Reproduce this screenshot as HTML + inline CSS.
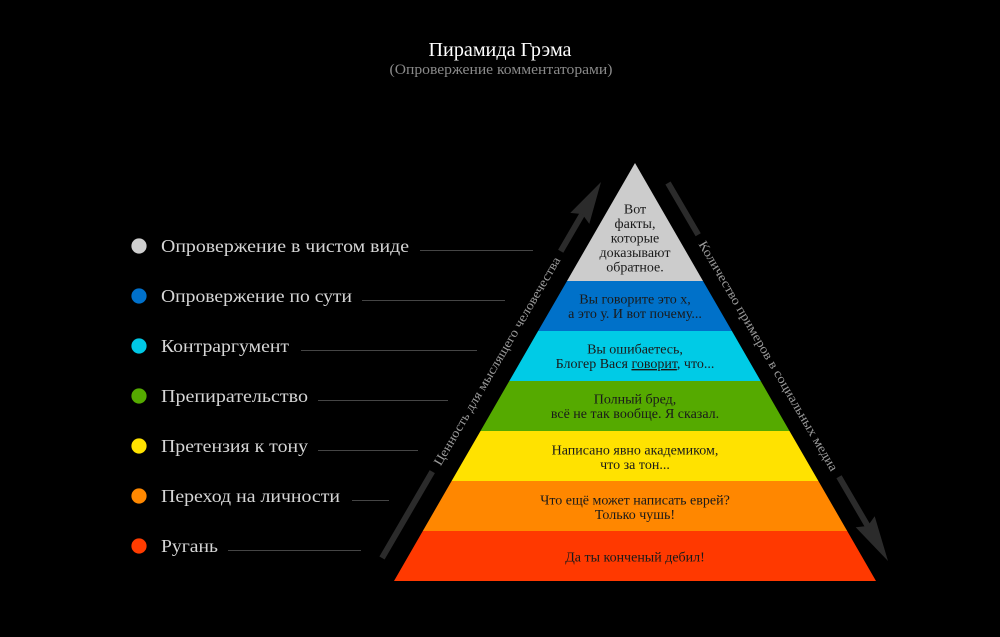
<!DOCTYPE html>
<html>
<head>
<meta charset="utf-8">
<style>
  html,body{margin:0;padding:0;background:#000;}
  svg{display:block;}
  text{font-family:"Liberation Serif","Noto Serif CJK SC",serif;}
</style>
</head>
<body>
<svg width="1000" height="637" viewBox="0 0 1000 637" xmlns="http://www.w3.org/2000/svg">
  <rect width="1000" height="637" fill="#000"/>

  <!-- Title -->
  <text x="500" y="56" text-anchor="middle" font-size="20" fill="#ffffff" textLength="143" lengthAdjust="spacingAndGlyphs">Пирамида Грэма</text>
  <text x="501" y="74" text-anchor="middle" font-size="15" fill="#8a8a8a" textLength="223" lengthAdjust="spacingAndGlyphs">(Опровержение комментаторами)</text>

  <!-- Legend -->
  <g fill="#d6d6d6" font-size="18">
    <circle cx="139" cy="246" r="7.6" fill="#cfcfcf"/>
    <text x="161" y="252" textLength="248" lengthAdjust="spacingAndGlyphs">Опровержение в чистом виде</text>
    <circle cx="139" cy="296" r="7.6" fill="#0071cc"/>
    <text x="161" y="302" textLength="191" lengthAdjust="spacingAndGlyphs">Опровержение по сути</text>
    <circle cx="139" cy="346" r="7.6" fill="#00c8e6"/>
    <text x="161" y="352" textLength="128" lengthAdjust="spacingAndGlyphs">Контраргумент</text>
    <circle cx="139" cy="396" r="7.6" fill="#55aa00"/>
    <text x="161" y="402" textLength="147" lengthAdjust="spacingAndGlyphs">Препирательство</text>
    <circle cx="139" cy="446" r="7.6" fill="#ffe200"/>
    <text x="161" y="452" textLength="147" lengthAdjust="spacingAndGlyphs">Претензия к тону</text>
    <circle cx="139" cy="496" r="7.6" fill="#ff8800"/>
    <text x="161" y="502" textLength="179" lengthAdjust="spacingAndGlyphs">Переход на личности</text>
    <circle cx="139" cy="546" r="7.6" fill="#ff3c00"/>
    <text x="161" y="552" textLength="57" lengthAdjust="spacingAndGlyphs">Ругань</text>
  </g>
  <g stroke="#454545" stroke-width="1">
    <line x1="420" y1="250.5" x2="533" y2="250.5"/>
    <line x1="362" y1="300.5" x2="505" y2="300.5"/>
    <line x1="301" y1="350.5" x2="477" y2="350.5"/>
    <line x1="318" y1="400.5" x2="448" y2="400.5"/>
    <line x1="318" y1="450.5" x2="418" y2="450.5"/>
    <line x1="352" y1="500.5" x2="389" y2="500.5"/>
    <line x1="228" y1="550.5" x2="361" y2="550.5"/>
  </g>

  <!-- Pyramid bands -->
  <polygon points="635,163 567,281 703,281" fill="#cccccc"/>
  <polygon points="567,281 703,281 731.9,331 538.1,331" fill="#0071c9"/>
  <polygon points="538.1,331 731.9,331 760.7,381 509.3,381" fill="#00cbe6"/>
  <polygon points="509.3,381 760.7,381 789.5,431 480.5,431" fill="#55aa00"/>
  <polygon points="480.5,431 789.5,431 818.4,481 451.6,481" fill="#ffe200"/>
  <polygon points="451.6,481 818.4,481 847.2,531 422.8,531" fill="#ff8700"/>
  <polygon points="422.8,531 847.2,531 876,581 394,581" fill="#ff3900"/>

  <!-- Pyramid text -->
  <g font-size="14" fill="#1a1a1a" text-anchor="middle">
    <text x="635" y="213.5">Вот</text>
    <text x="635" y="228">факты,</text>
    <text x="635" y="242.5">которые</text>
    <text x="635" y="257">доказывают</text>
    <text x="635" y="271.5">обратное.</text>

    <text x="635" y="303.5">Вы говорите это х,</text>
    <text x="635" y="318">а это у. И вот почему...</text>

    <text x="635" y="353.5">Вы ошибаетесь,</text>
    <text x="635" y="368">Блогер Вася <tspan style="text-decoration:underline">говорит</tspan>, что...</text>

    <text x="635" y="403.5">Полный бред,</text>
    <text x="635" y="418">всё не так вообще. Я сказал.</text>

    <text x="635" y="454.5">Написано явно академиком,</text>
    <text x="635" y="469">что за тон...</text>

    <text x="635" y="504.5">Что ещё может написать еврей?</text>
    <text x="635" y="519">Только чушь!</text>

    <text x="635" y="561.5">Да ты конченый дебил!</text>
  </g>

  <!-- Left arrow -->
  <g stroke="#2b2b2b" stroke-width="6" stroke-linecap="butt">
    <line x1="382" y1="558" x2="432.3" y2="471.6"/>
    <line x1="560.7" y1="251.2" x2="582.3" y2="214.1"/>
  </g>
  <polygon points="601,182 589.3,223.9 582.3,214.1 570.3,212.9" fill="#2b2b2b"/>
  <text x="0" y="0" font-size="13" fill="#9a9a9a" text-anchor="middle" dominant-baseline="central"
        textLength="239" lengthAdjust="spacingAndGlyphs"
        transform="translate(496.8,361) rotate(-59.8)">Ценность для мыслящего человечества</text>

  <!-- Right arrow -->
  <g stroke="#2b2b2b" stroke-width="6" stroke-linecap="butt">
    <line x1="668" y1="183" x2="698.2" y2="234.8"/>
    <line x1="839" y1="476.8" x2="867.7" y2="526"/>
  </g>
  <polygon points="888,561 855.7,527.2 867.7,526 874.7,516.2" fill="#2b2b2b"/>
  <text x="0" y="0" font-size="13" fill="#9a9a9a" text-anchor="middle" dominant-baseline="central"
        textLength="264" lengthAdjust="spacingAndGlyphs"
        transform="translate(768.6,355.8) rotate(59.8)">Количество примеров в социальных медиа</text>
</svg>
</body>
</html>
